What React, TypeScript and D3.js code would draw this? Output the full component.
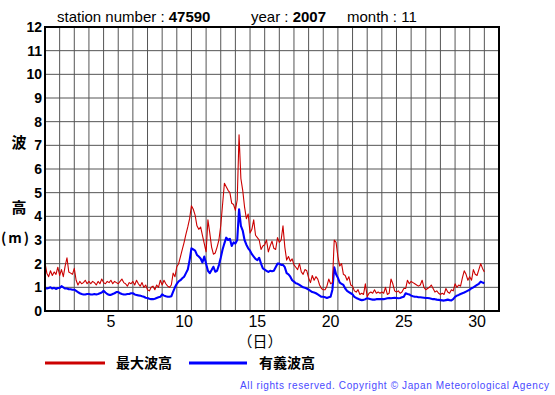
import React from 'react';
import * as d3 from 'd3';

// max wave height, 8 samples a day (every 3 h) from Nov 1 00:00 to Dec 1 00:00
const maxWave = [
  2.05, 1.6, 1.45, 1.7, 1.5, 1.65, 1.55, 1.85,
  1.5, 1.75, 1.45, 1.9, 2.25, 1.65, 1.6, 1.55,
  1.8, 1.3, 1.1, 1.25, 1.15, 1.2, 1.3, 1.15,
  1.25, 1.15, 1.25, 1.2, 1.1, 1.25, 1.15, 1.35,
  1.2, 1.15, 1.25, 1.2, 1.3, 1.15, 1.25, 1.2,
  1.15, 1.25, 1.35, 1.2, 1.15, 1.05, 1.2, 1.15,
  1.25, 1.1, 1.3, 1.15, 1.05, 1.2, 1.0, 1.1,
  0.9, 0.85, 1.0, 1.05, 0.9, 1.1, 1.0, 1.3,
  1.1, 1.3, 1.15, 1.05, 1.0, 1.1, 1.6, 1.45,
  1.87, 2.0, 2.3, 2.6, 2.9, 3.25, 3.55, 3.9,
  4.45, 4.3, 4.05, 3.6, 3.45, 3.55, 3.2, 2.85,
  2.5, 3.85, 3.3, 2.7, 2.4, 2.45, 2.7, 3.0,
  3.6, 4.5, 5.4, 5.25, 5.1, 5.0, 4.55, 4.5,
  4.25, 4.7, 7.45, 5.6, 5.1, 4.4, 3.9, 4.1,
  3.3, 3.45, 3.85, 3.2, 3.1, 3.0, 2.6, 2.75,
  2.8, 3.0, 2.5, 2.75, 2.95, 2.65, 2.6, 3.1,
  2.9, 3.0, 3.6, 2.7, 2.15, 2.3, 2.1, 2.2,
  1.95, 1.85, 1.75, 2.0, 1.65, 1.55, 1.75, 1.7,
  1.4, 1.2, 1.5, 1.3, 1.45, 1.35, 1.1, 0.95,
  0.9, 0.9, 1.05, 1.35, 1.15, 1.2, 3.0, 2.9,
  2.3, 1.9, 2.0, 1.55, 1.5, 1.3, 1.45, 1.1,
  1.05, 0.85, 0.8, 0.9, 0.7, 0.75, 0.7, 1.15,
  0.6, 0.75, 0.8, 0.75, 0.9, 0.75, 0.8, 0.75,
  0.8, 0.75, 1.0, 0.7, 0.75, 1.35, 1.15, 0.85,
  0.8, 0.85, 0.75, 0.8, 0.95, 0.95, 1.3, 1.15,
  1.25, 1.2, 1.15, 1.1, 1.05, 1.1, 1.3, 1.0,
  0.9, 0.95, 1.0, 1.1, 0.95, 0.8, 0.85, 0.75,
  0.7, 0.75, 0.7, 0.95, 0.8, 0.75, 0.9, 0.85,
  1.15, 1.0, 1.1, 1.05, 1.4, 1.7, 1.55, 1.3,
  1.45, 1.3, 1.75, 1.55, 1.5, 1.75, 2.0, 1.8,
  1.65,
];

// significant wave height, same 3-hourly steps
const sigWave = [
  0.98, 0.95, 0.97, 1.0, 0.95, 0.98, 0.93, 0.97,
  0.97, 1.05, 1.0, 0.95, 0.95, 0.92, 0.92, 0.9,
  0.9, 0.85, 0.8, 0.75, 0.72, 0.7, 0.7, 0.72,
  0.72, 0.7, 0.7, 0.72, 0.7, 0.72, 0.75, 0.78,
  0.85, 0.78, 0.72, 0.68, 0.68, 0.72, 0.75, 0.8,
  0.8, 0.75, 0.72, 0.7, 0.7, 0.72, 0.72, 0.75,
  0.75, 0.7, 0.68, 0.66, 0.65, 0.62, 0.6, 0.56,
  0.55, 0.52, 0.5, 0.5, 0.52, 0.55, 0.58, 0.6,
  0.7, 0.65, 0.62, 0.6, 0.6, 0.62, 0.82, 1.0,
  1.15, 1.25, 1.3, 1.38, 1.45, 1.6, 1.75, 2.15,
  2.65, 2.6, 2.55, 2.37, 2.3, 2.22, 2.05, 2.3,
  2.0, 1.7, 1.6, 1.73, 1.87, 1.66, 1.7, 1.94,
  2.25, 2.6, 2.86, 3.1, 3.0, 3.05, 2.75, 2.9,
  2.85, 3.0, 4.3, 3.6, 3.4, 3.0, 2.8, 2.65,
  2.55, 2.4, 2.3, 2.2, 2.15, 2.25, 2.0, 1.8,
  1.75, 1.7, 1.65, 1.7, 1.68, 1.7, 1.85, 2.0,
  2.0, 1.95, 1.95, 1.85, 1.6, 1.55, 1.45, 1.3,
  1.24, 1.17, 1.15, 1.1, 1.05, 1.0, 0.98, 0.95,
  0.9, 0.85, 0.8, 0.78, 0.75, 0.7, 0.65, 0.6,
  0.6, 0.58, 0.55, 0.58, 0.6, 0.9, 1.85, 1.55,
  1.4, 1.2, 1.15, 1.1, 0.95, 0.85, 0.8, 0.75,
  0.7, 0.6, 0.55, 0.52, 0.48, 0.46, 0.47, 0.5,
  0.54, 0.52, 0.5, 0.48, 0.48, 0.5, 0.5, 0.5,
  0.5, 0.5, 0.52, 0.54, 0.55, 0.54, 0.55, 0.56,
  0.55, 0.54, 0.55, 0.58, 0.6, 0.75, 0.72, 0.7,
  0.65, 0.62, 0.6, 0.6, 0.58, 0.58, 0.57, 0.56,
  0.55, 0.55, 0.54, 0.52, 0.5, 0.5, 0.48, 0.47,
  0.46, 0.45, 0.44, 0.46, 0.48, 0.46, 0.45, 0.5,
  0.6, 0.65, 0.68, 0.72, 0.75, 0.78, 0.82, 0.86,
  0.9, 0.96, 1.0, 1.05, 1.1, 1.15, 1.24, 1.2,
  1.17,
];

const yTicks = [0, 1, 2, 3, 4, 5, 6, 7, 8, 9, 10, 11, 12];
const xLabels = [5, 10, 15, 20, 25, 30];
const dayLines = d3.range(0, 32);

const W = 555, H = 395;
const left = 45, right = 499, top = 27, bottom = 311;
const latin = '"Liberation Sans", Arial, sans-serif';
const cjk = '"Noto Sans CJK JP", sans-serif';

export default function App() {
  // one column per day, day 1 in the first column
  const x = d3.scaleLinear().domain([0, 31]).range([left, right]);
  const y = d3.scaleLinear().domain([0, 12]).range([bottom, top]);

  const line8 = d3.line<number>()
    .x((d, i) => x(i / 8))
    .y(d => y(d));

  return (
    <svg width={W} height={H} style={{ position: 'absolute', left: 0, top: 0, background: '#fff' }}>
      <rect width={W} height={H} fill="#fff" />
      <text x={57} y={22} fontFamily={latin} fontSize={15} fill="#000">
        station number : <tspan fontWeight="bold">47590</tspan>
      </text>
      <text x={251} y={22} fontFamily={latin} fontSize={15} fill="#000">
        year : <tspan fontWeight="bold">2007</tspan>
      </text>
      <text x={347} y={22} fontFamily={latin} fontSize={15} fill="#000">
        month : 11
      </text>

      {/* grid */}
      {dayLines.map(d => (
        <line key={'v' + d} x1={x(d)} x2={x(d)} y1={top} y2={bottom} stroke="#555" strokeWidth={1} />
      ))}
      {yTicks.map(v => (
        <line key={'h' + v} x1={left} x2={right} y1={y(v)} y2={y(v)} stroke="#555" strokeWidth={1} />
      ))}

      <path d={line8(sigWave) || ''} fill="none" stroke="#0000ff" strokeWidth={2.1} strokeLinejoin="round" />
      <path d={line8(maxWave) || ''} fill="none" stroke="#cc0000" strokeWidth={1.1} strokeLinejoin="round" />

      <rect x={left} y={top} width={right - left} height={bottom - top} fill="none" stroke="#000" strokeWidth={2} />

      {yTicks.map(v => (
        <text key={'yt' + v} x={42} y={y(v) + 5} textAnchor="end" fontFamily={latin}
          fontWeight="bold" fontSize={14} fill="#000">{v}</text>
      ))}
      {xLabels.map(v => (
        <text key={'xt' + v} x={x(v - 0.5)} y={327} textAnchor="middle" fontFamily={latin}
          fontSize={16} fill="#000">{v}</text>
      ))}
      <text x={260} y={347} textAnchor="middle" fontFamily={cjk} fontSize={15} fill="#000">（日）</text>

      <text x={19} y={148} textAnchor="middle" fontFamily={cjk} fontSize={15} fontWeight="bold" fill="#000">波</text>
      <text x={19} y={213} textAnchor="middle" fontFamily={cjk} fontSize={15} fontWeight="bold" fill="#000">高</text>
      <text x={1} y={243} fontFamily={cjk} fontSize={14} fontWeight="bold" letterSpacing={2} fill="#000">(m)</text>

      <line x1={45} x2={105} y1={363} y2={363} stroke="#cc0000" strokeWidth={3} />
      <text x={116} y={368} fontFamily={cjk} fontSize={14} fontWeight="bold" fill="#000">最大波高</text>
      <line x1={189} x2={247} y1={363} y2={363} stroke="#0000ff" strokeWidth={3} />
      <text x={259} y={368} fontFamily={cjk} fontSize={14} fontWeight="bold" fill="#000">有義波高</text>

      <text x={240} y={389} fontFamily={latin} fontSize={10} fill="#4a4aff"
        textLength={309} lengthAdjust="spacing">All rights reserved. Copyright © Japan Meteorological Agency</text>
    </svg>
  );
}
